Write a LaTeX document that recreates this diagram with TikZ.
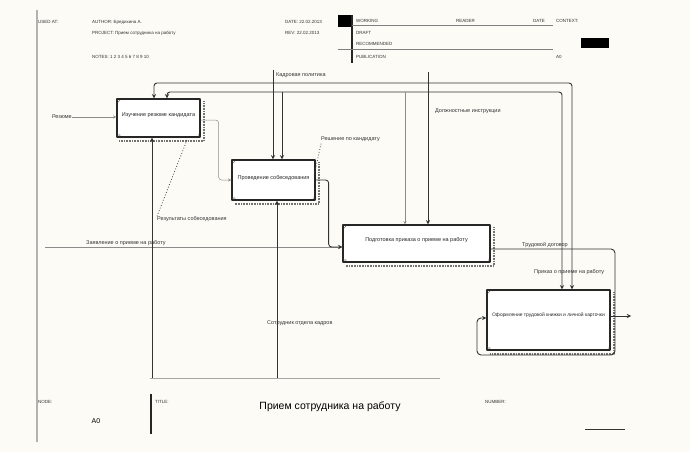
\documentclass[tikz,border=0pt]{standalone}
\usepackage{fontspec}
\setmainfont{Liberation Sans}
\usetikzlibrary{positioning}
\definecolor{paper}{RGB}{253,251,246}
\begin{document}
\begin{tikzpicture}[x=1pt,y=-1pt,line join=round,>=stealth,
	idef/.style={draw=black!85,line width=1.3pt,fill=white,inner sep=0pt},
	boxtxt/.style={font=\fontsize{5.5}{6}\selectfont,inner sep=0pt,text=black!85},
	lbl/.style={font=\fontsize{5.5}{6}\selectfont,inner sep=0pt,text=black!80,anchor=west},
	hdr/.style={font=\fontsize{4.5}{5}\selectfont,inner sep=0pt,text=black!80,anchor=west},
	tag/.style={font=\fontsize{3}{3}\selectfont,inner sep=0.6pt,text=black!70},
	ctrl/.style={draw=black!80,line width=0.9pt},
	feed/.style={draw=black!45,line width=0.5pt},
	squig/.style={draw=black!75,dotted,line width=0.8pt},
	hatch/.style={draw=black!55,line width=2pt,dash pattern=on 0.6pt off 1pt}]
	\useasboundingbox[fill=paper] (0,0) rectangle (690,452);
	% frame
	\draw[black!30,line width=1.2pt] (37,10) -- (37,442);
	\draw[black!35,line width=0.5pt] (150,378) -- (440,378);
	% header
	\node[hdr] (usedat) at (38,22) {USED AT:};
	\node[hdr] (author) at (92,22) {AUTHOR: Бредихина А.};
	\node[hdr] (project) at (92,33) {PROJECT: Прием сотрудника на работу};
	\node[hdr] (notes) at (92,57) {NOTES: 1 2 3 4 5 6 7 8 9 10};
	\node[hdr] (date) at (285,22) {DATE: 22.02.2013};
	\node[hdr] (rev) at (285,33) {REV: 22.02.2013};
	\fill[black] (338,15) rectangle (352,27);
	\draw[black!85,line width=1.2pt] (352,15) -- (352,63);
	\draw[black!50,line width=0.5pt] (352,25) -- (553,25);
	\draw[black!50,line width=0.5pt] (338,49) -- (553,49);
	\node[hdr] (working) at (356,21) {WORKING};
	\node[hdr] (reader) at (456,21) {READER};
	\node[hdr] (datec) at (533,21) {DATE};
	\node[hdr] (context) at (556,21) {CONTEXT:};
	\node[hdr] (draft) at (356,33) {DRAFT};
	\node[hdr] (recom) at (356,44) {RECOMMENDED};
	\node[hdr] (public) at (356,57) {PUBLICATION};
	\node[hdr] (ctxnode) at (556,57) {A0};
	\fill[black] (581,38) rectangle (609,48);
	% activity boxes
	\node[idef,minimum width=83pt,minimum height=38pt] (rassm) at (158.5,118) {};
	\node[idef,minimum width=83pt,minimum height=40pt] (sobes) at (273.5,180) {};
	\node[idef,minimum width=147pt,minimum height=37pt] (podg) at (416.5,243.5) {};
	\node[idef,minimum width=123pt,minimum height=60pt] (oform) at (548.5,320) {};
	\node[boxtxt] (t1) at ([yshift=3pt]rassm.center) {Изучение резюме кандидата};
	\node[boxtxt] (t2) at ([yshift=2pt]sobes.center) {Проведение собеседования};
	\node[boxtxt] (t3) at ([yshift=3.5pt]podg.center) {Подготовка приказа о приеме на работу};
	\node[boxtxt,font=\fontsize{4.9}{5}\selectfont] (t4) at ([yshift=5pt]oform.center) {Оформление трудовой книжки и личной карточки};
	\foreach \b/\n in {rassm/1,sobes/2,podg/3,oform/4}{
		\draw[hatch] ([xshift=3pt,yshift=-3pt]\b.north east) -- ([xshift=3pt,yshift=-3pt]\b.south east) -- ([xshift=3pt,yshift=-3pt]\b.south west);
		\draw[black!70,line width=0.4pt] ([xshift=1.5pt,yshift=-4pt]\b.north west) -- ([xshift=4pt,yshift=-1.5pt]\b.north west);
		\node[tag,anchor=south west] (c\n) at (\b.south west) {0р};
		\node[tag,anchor=south east] (n\n) at (\b.south east) {\n};
	}
	% controls
	\coordinate (kpIn) at (273,70);
	\coordinate (diIn) at (428,72);
	\draw[ctrl,->] (kpIn) -- ([xshift=-0.5pt]sobes.north);
	\draw[ctrl,->,rounded corners=3pt] (273,83) -| ([xshift=-4.5pt]rassm.north);
	\draw[ctrl,->,rounded corners=3pt] (273,83) -| ([xshift=23.5pt]oform.north);
	\draw[ctrl,->] (diIn) -- ([xshift=11.5pt]podg.north);
	\draw[ctrl,->,rounded corners=3pt] (428,92) -| ([xshift=8.5pt]rassm.north);
	\draw[ctrl,->,rounded corners=3pt] (428,92) -| ([xshift=13.5pt]oform.north);
	\draw[ctrl,->] (282,92) -- ([xshift=8.5pt]sobes.north);
	\draw[feed,->] (405,92) -- ([xshift=-11.5pt]podg.north);
	\node[lbl] (kpLbl) at (276,75) {Кадровая политика};
	\node[lbl] (diLbl) at (435,111) {Должностные инструкции};
	% inputs and flows
	\coordinate (rezIn) at (72,117);
	\node[lbl,anchor=east] (rezLbl) at (rezIn) {Резюме};
	\draw[feed,->] (rezIn) -- (rassm.west |- rezIn);
	\draw[feed,->,rounded corners=3pt] ([yshift=-2pt]rassm.east) -- ++(18,0) |- (sobes.west);
	\coordinate (zayIn) at (45,247);
	\draw[feed,->] (zayIn) -- ([yshift=-3.5pt]podg.west);
	\node[lbl,anchor=south west] (zayLbl) at (86,246) {Заявление о приеме на работу};
	\draw[ctrl,->,rounded corners=3pt] (sobes.east) -- ++(13,0) |- ([yshift=-3.5pt]podg.west);
	\node[lbl] (resLbl) at (157,219) {Результаты собеседования};
	\draw[squig] (resLbl.north west) -- (187,140);
	\node[lbl] (reshLbl) at (321,139) {Решение по кандидату};
	\draw[squig] ([yshift=-2pt]reshLbl.south west) -- (314,176);
	\draw[ctrl,->,rounded corners=4pt] ([yshift=-5.5pt]podg.east) -- (615,249) -- (615,355) -- (477,355) -- (477,318) -- ([yshift=2pt]oform.west);
	\node[lbl] (tdLbl) at (522,245) {Трудовой договор};
	\node[lbl] (prLbl) at (534,272) {Приказ о приеме на работу};
	\coordinate (oformOut) at (631,316);
	\draw[ctrl,->] ([yshift=4pt]oform.east) -- (oformOut);
	% mechanisms
	\coordinate (m1) at (152,378);
	\coordinate (m2) at (277,378);
	\draw[ctrl,->] (m1) -- ([xshift=-6.5pt]rassm.south);
	\draw[ctrl,->] (m2) -- ([xshift=3.5pt]sobes.south);
	\node[lbl] (sotrLbl) at (267,323) {Сотрудник отдела кадров};
	% footer
	\draw[black!30,line width=1.2pt] (37,392) -- (37,442);
	\draw[black!85,line width=1.2pt] (151,394) -- (151,434);
	\node[hdr] (nodeLbl) at (38,402) {NODE:};
	\node[font=\fontsize{7}{8}\selectfont,inner sep=0pt] (nodeNo) at (96,421) {A0};
	\node[hdr] (titleLbl) at (155,402) {TITLE:};
	\node[font=\fontsize{10.5}{12}\selectfont,inner sep=0pt] (title) at (330,407) {Прием сотрудника на работу};
	\node[hdr] (numLbl) at (485,402) {NUMBER:};
	\draw[black!80,line width=0.9pt] (585,429) -- (625,429);
\end{tikzpicture}
\end{document}
